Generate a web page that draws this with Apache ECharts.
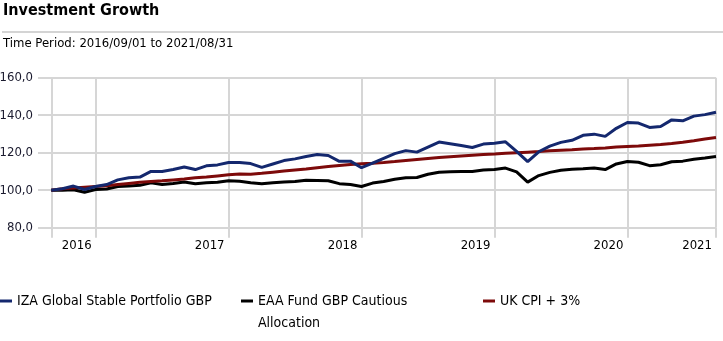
<!DOCTYPE html>
<html><head><meta charset="utf-8">
<script src="https://cdn.jsdelivr.net/npm/echarts@6/dist/echarts.min.js"></script>
<style>html,body{margin:0;padding:0;background:#fff}#c{width:723px;height:341px}</style>
</head><body><div id="c"></div>
<script>
const months = [
 '2016-08','2016-09','2016-10','2016-11','2016-12',
 '2017-01','2017-02','2017-03','2017-04','2017-05','2017-06','2017-07','2017-08','2017-09','2017-10','2017-11','2017-12',
 '2018-01','2018-02','2018-03','2018-04','2018-05','2018-06','2018-07','2018-08','2018-09','2018-10','2018-11','2018-12',
 '2019-01','2019-02','2019-03','2019-04','2019-05','2019-06','2019-07','2019-08','2019-09','2019-10','2019-11','2019-12',
 '2020-01','2020-02','2020-03','2020-04','2020-05','2020-06','2020-07','2020-08','2020-09','2020-10','2020-11','2020-12',
 '2021-01','2021-02','2021-03','2021-04','2021-05','2021-06','2021-07','2021-08'
];
const gridMonthIdx = [0, 4, 16, 28, 40, 52, 60];
const yearLabelIdx = [4, 16, 28, 40, 52, 60];
const yearLabels = ['2016', '2017', '2018', '2019', '2020', '2021'];
const yTicks = [80, 100, 120, 140, 160];

const izaName = 'IZA Global Stable Portfolio GBP';
const eaaName = 'EAA Fund GBP Cautious Allocation';
const cpiName = 'UK CPI + 3%';

const iza = [100, 100.8, 102.2, 100.4, 102, 103, 105.5, 106.6, 107, 110, 110, 111, 112.4, 111, 113, 113.5, 114.8,
 114.8, 114.2, 112.2, 114, 115.8, 116.7, 118, 119, 118.5, 115.4, 115.5, 112,
 114.5, 117, 119.5, 121.1, 120.3, 123, 125.7, 124.8, 123.8, 122.8, 124.6, 125,
 125.8, 120.7, 115.2, 120.5, 123.5, 125.5, 126.6, 129.3, 129.9, 128.7, 133, 136.1,
 135.8, 133.5, 134, 137.5, 137, 139.5, 140.3, 141.6];
const eaa = [100, 100, 100.2, 98.9, 100.4, 100.6, 102, 102.3, 102.6, 103.9, 103, 103.6, 104.4, 103.4, 104, 104.2, 105,
 104.8, 104, 103.4, 104, 104.4, 104.6, 105.3, 105.2, 105, 103.5, 103, 102,
 103.8, 104.6, 105.8, 106.6, 106.8, 108.5, 109.6, 109.8, 110, 110, 110.8, 111,
 111.8, 109.8, 104.3, 107.8, 109.5, 110.6, 111.2, 111.4, 111.8, 111, 114, 115.3,
 114.9, 113.1, 113.6, 115.2, 115.5, 116.5, 117.2, 118];
const cpi = [100, 100.8, 101.2, 101.6, 102, 102.4, 103, 103.6, 104.2, 104.6, 105, 105.5, 106, 106.6, 107, 107.6, 108.2,
 108.6, 108.5, 109, 109.6, 110.2, 110.8, 111.3, 112, 112.6, 113.2, 113.7, 114.1,
 114.4, 114.8, 115.3, 115.9, 116.4, 116.9, 117.4, 117.8, 118.2, 118.6, 119, 119.3,
 119.7, 120, 120.3, 120.6, 121, 121.3, 121.6, 122, 122.2, 122.5, 123, 123.3,
 123.6, 124, 124.4, 124.9, 125.6, 126.4, 127.3, 128.1];

const FONT = '"Liberation Sans Narrow", "Arial Narrow", "DejaVu Sans Condensed", sans-serif';
const GRID_COLOR = '#d6d6d6';
const C_IZA = '#14286e', C_EAA = '#000000', C_CPI = '#7d0a0a';

const toPts = arr => arr.map((v, i) => [i, v]);
const fmtY = v => v.toFixed(1).replace('.', ',');

const chart = echarts.init(document.getElementById('c'), null, {renderer: 'canvas'});
const legendBase = {
  top: 294, orient: 'horizontal', icon: 'rect', itemWidth: 12, itemHeight: 3, padding: 0,
  textStyle: {fontFamily: FONT, fontSize: 14, color: '#000'}, selectedMode: false
};
chart.setOption({
  animation: false,
  textStyle: {fontFamily: FONT},
  title: [
    {text: 'Investment Growth', left: 3, top: 3, padding: 0,
     textStyle: {fontFamily: FONT, fontSize: 16, fontWeight: 'bold', color: '#000'}},
    {text: 'Time Period: 2016/09/01 to 2021/08/31', left: 3, top: 37, padding: 0,
     textStyle: {fontFamily: FONT, fontSize: 13, fontWeight: 'normal', color: '#000'}}
  ],
  graphic: [
    {type: 'rect', left: 2, top: 31, shape: {width: 721, height: 2}, style: {fill: '#d4d4d4'}, silent: true},
    {type: 'text', left: 258, top: 316, style: {text: 'Allocation', font: '14px ' + FONT, fill: '#000'}}
  ],
  legend: [
    Object.assign({}, legendBase, {left: 0, data: [izaName]}),
    Object.assign({}, legendBase, {left: 241, data: [eaaName], formatter: () => 'EAA Fund GBP Cautious'}),
    Object.assign({}, legendBase, {left: 483, data: [cpiName]})
  ],
  grid: {left: 38, right: 7, top: 77.7, bottom: 113.3, containLabel: false, outerBoundsMode: 'none'},
  xAxis: {
    type: 'value', min: -1.2, max: 60,
    axisLine: {show: false},
    axisTick: {show: true, customValues: gridMonthIdx, length: 10, lineStyle: {color: GRID_COLOR, width: 2}},
    splitLine: {show: true, lineStyle: {color: GRID_COLOR, width: 2}},
    axisLabel: {
      customValues: yearLabelIdx,
      formatter: v => yearLabels[yearLabelIdx.indexOf(Math.round(v))] || '',
      align: 'right', padding: [0, 4, 0, 0], margin: 11,
      fontFamily: FONT, fontSize: 13, color: '#000'
    }
  },
  yAxis: {
    type: 'value', min: yTicks[0], max: yTicks[yTicks.length - 1], interval: 20,
    axisLine: {show: false}, axisTick: {show: false},
    splitLine: {show: true, lineStyle: {color: GRID_COLOR, width: 2}},
    axisLabel: {formatter: fmtY, margin: 5, fontFamily: FONT, fontSize: 13, color: '#1a1a2e'}
  },
  series: [
    {name: izaName, type: 'line', data: toPts(iza), showSymbol: false, z: 4,
     lineStyle: {color: C_IZA, width: 3}, itemStyle: {color: C_IZA}},
    {name: eaaName, type: 'line', data: toPts(eaa), showSymbol: false, z: 2,
     lineStyle: {color: C_EAA, width: 3}, itemStyle: {color: C_EAA}},
    {name: cpiName, type: 'line', data: toPts(cpi), showSymbol: false, z: 3,
     lineStyle: {color: C_CPI, width: 3}, itemStyle: {color: C_CPI}}
  ]
});
</script>
</body></html>
